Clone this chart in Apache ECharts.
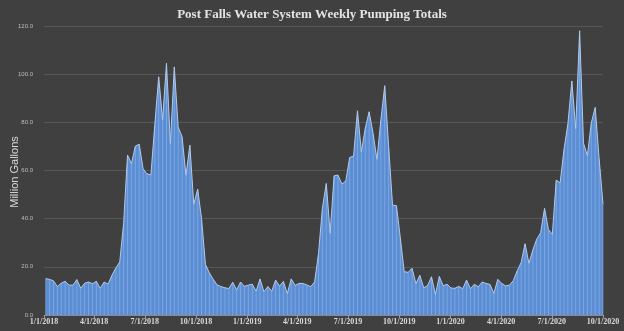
<!DOCTYPE html>
<html>
<head>
<meta charset="utf-8">
<script src="https://cdn.jsdelivr.net/npm/echarts@6/dist/echarts.min.js"></script>
<style>
html,body{margin:0;padding:0;background:#404040;}
#chart{width:624px;height:331px;}
</style>
</head>
<body>
<div id="chart"></div>
<script>
// Weekly series: first week ending 1/4/2018, one value per week
var startDate = [2018, 1, 4];
var weeklyTotals = [
  15.1, 14.8, 14.2, 11.8, 13.2, 14.0, 12.4, 12.4, 14.7, 11.1,
  13.2, 13.7, 13.0, 14.0, 11.1, 13.7, 12.8, 16.5, 19.5, 22.0,
  38.0, 66.4, 62.8, 70.1, 70.9, 60.7, 58.6, 58.2, 79.0, 98.9,
  81.0, 104.5, 71.2, 103.0, 78.0, 74.0, 58.0, 70.5, 46.0, 52.3,
  40.0, 21.0, 17.5, 14.8, 12.5, 11.8, 11.3, 11.0, 13.6, 10.4,
  13.7, 11.9, 12.4, 12.8, 9.9, 15.0, 9.6, 11.8, 9.9, 14.5,
  12.0, 13.9, 8.9, 15.0, 12.3, 13.1, 13.1, 12.5, 11.8, 13.7,
  25.5, 44.3, 54.6, 33.9, 57.8, 58.1, 54.4, 55.6, 65.4, 66.0,
  84.8, 67.8, 77.5, 84.4, 75.4, 64.6, 80.9, 95.2, 70.0, 45.6,
  45.4, 32.0, 18.0, 17.7, 19.4, 13.0, 16.5, 11.3, 12.2, 15.9,
  8.5, 16.0, 12.1, 12.8, 11.2, 11.1, 11.9, 10.9, 14.5, 10.9,
  12.8, 11.7, 13.7, 13.1, 12.7, 9.0, 14.8, 13.1, 12.1, 12.4,
  14.3, 18.4, 21.8, 29.6, 21.4, 27.0, 31.5, 34.2, 44.3, 35.5,
  33.5, 56.0, 54.9, 68.8, 79.5, 97.2, 77.4, 118.0, 71.3, 66.2,
  79.8, 86.2, 65.0, 46.0
];
var xTickLabels = ['1/1/2018','4/1/2018','7/1/2018','10/1/2018','1/1/2019','4/1/2019',
  '7/1/2019','10/1/2019','1/1/2020','4/1/2020','7/1/2020','10/1/2020'];
var yTickLabels = ['0.0','20.0','40.0','60.0','80.0','100.0','120.0'];
var titleText = 'Post Falls Water System Weekly Pumping Totals';
var yAxisTitle = 'Million Gallons';

var DAY = 86400000;
function parseMDY(s){var p=s.split('/');return Date.UTC(+p[2],+p[0]-1,+p[1])/DAY;}
var tickDays = xTickLabels.map(parseMDY);
var seriesData = weeklyTotals.map(function(v,i){
  return [Date.UTC(startDate[0], startDate[1]-1, startDate[2] + 7*i)/DAY, v];
});
var yTickValues = yTickLabels.map(Number);

var chart = echarts.init(document.getElementById('chart'), null, {renderer:'canvas'});
chart.setOption({
  backgroundColor:'#404040',
  animation:false,
  title:{
    text:titleText, left:'center', top:3,
    textStyle:{color:'#e4e4e4', fontFamily:'Liberation Serif', fontWeight:'bold', fontSize:13}
  },
  graphic:[{
    type:'text', x:15, y:172, rotation:Math.PI/2,
    style:{text:yAxisTitle, fill:'#d8d8d8', font:'11px "Liberation Sans"', align:'center', verticalAlign:'middle'}
  }],
  grid:{left:44, right:21, top:26, bottom:16, containLabel:false, outerBoundsMode:'none'},
  xAxis:{
    type:'value',
    min:tickDays[0], max:tickDays[tickDays.length-1],
    axisLine:{show:true, lineStyle:{color:'#8a8a8a', width:1}},
    axisTick:{show:true, customValues:tickDays, length:3, lineStyle:{color:'#9a9a9a'}},
    axisLabel:{
      customValues:tickDays, color:'#dadada', fontFamily:'Liberation Serif', fontWeight:'bold',
      fontSize:8, margin:3, showMinLabel:true, showMaxLabel:true, hideOverlap:false,
      formatter:function(v){var i=tickDays.indexOf(v);return i>=0?xTickLabels[i]:'';}
    },
    splitLine:{show:false}
  },
  yAxis:{
    type:'value', min:0, max:120, interval:20,
    axisLine:{show:false}, axisTick:{show:false},
    axisLabel:{color:'#bdbdbd', fontSize:6, fontFamily:'Liberation Sans', margin:11,
      formatter:function(v){var i=yTickValues.indexOf(v);return i>=0?yTickLabels[i]:'';}},
    splitLine:{show:true, lineStyle:{color:'#575757', width:1}}
  },
  series:[
    {
      type:'line', data:seriesData, symbol:'none', smooth:false,
      lineStyle:{color:'#b3c9e8', width:1},
      areaStyle:{color:'#5a8dd3', opacity:1},
      z:2
    },
    {
      type:'bar', data:seriesData, barWidth:1,
      itemStyle:{color:'rgba(175,205,245,0.4)'},
      z:3, silent:true
    }
  ]
});
</script>
</body>
</html>
